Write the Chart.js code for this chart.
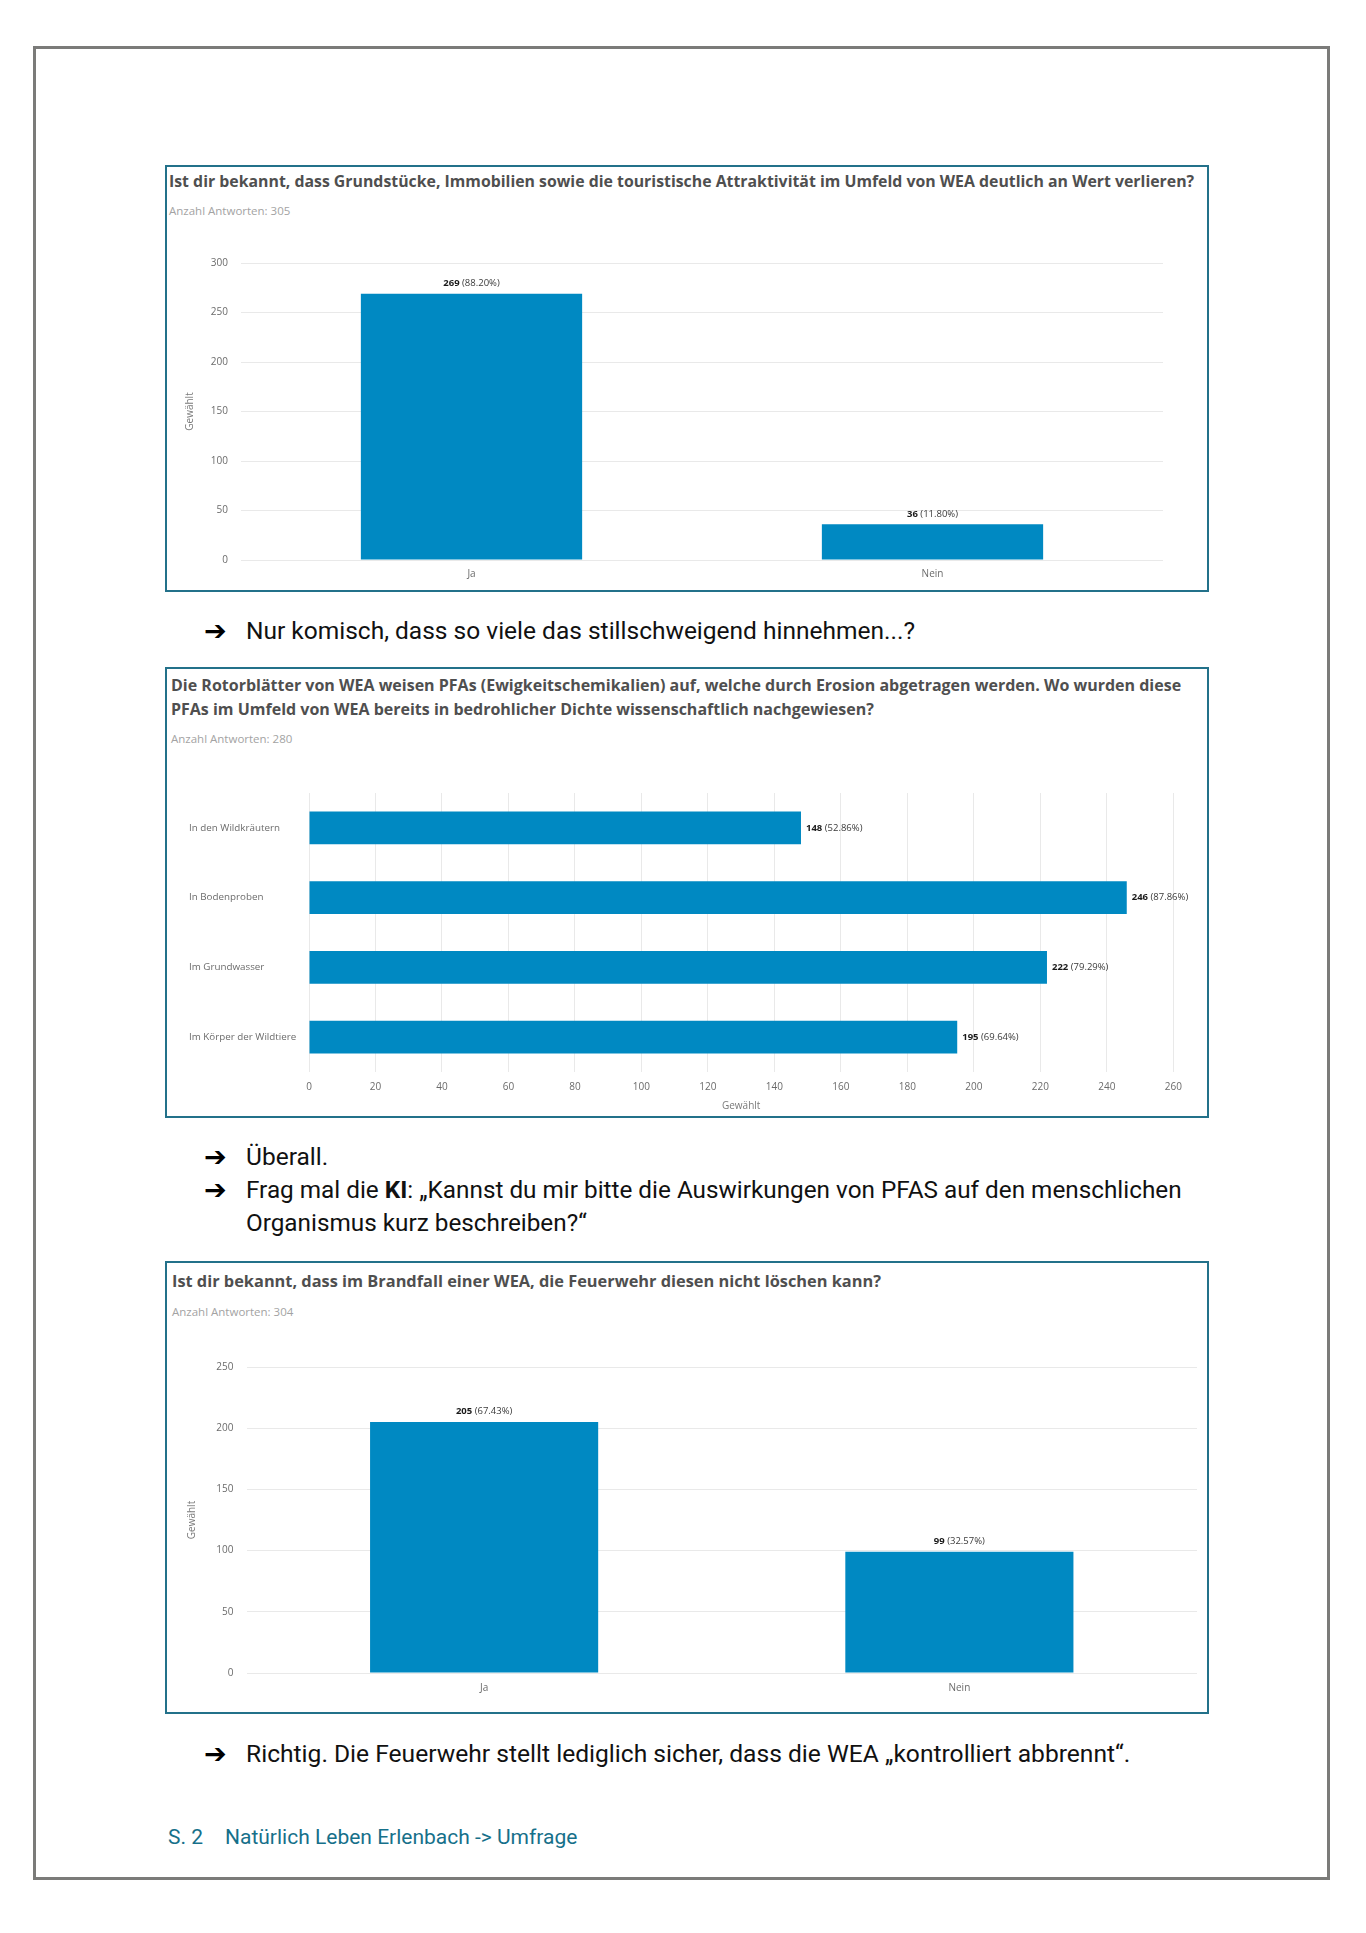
<!DOCTYPE html>
<html>
<head>
<meta charset="utf-8">
<script src="https://cdn.jsdelivr.net/npm/chart.js@4.4.1/dist/chart.umd.min.js"></script>
<style>
  html,body{margin:0;padding:0;background:#fff;}
  body{width:1366px;height:1933px;position:relative;overflow:hidden;font-family:'Open Sans',sans-serif;}
  .page{position:absolute;left:33px;top:46px;width:1291px;height:1828px;border:3px solid #7b7b79;}
  .box{position:absolute;left:165px;width:1040px;border:2px solid #23718a;}
  .title{position:absolute;font-family:'Open Sans',sans-serif;font-weight:700;font-size:16px;line-height:20px;color:#4f4f4f;white-space:nowrap;}
  .sub{position:absolute;font-family:'Open Sans',sans-serif;font-size:11.5px;line-height:16px;color:#a3a3a3;white-space:nowrap;}
  .cw{position:absolute;left:167px;width:1040px;}
  .txt{position:absolute;left:246px;font-family:Roboto,sans-serif;font-size:24.5px;line-height:32px;color:#111;white-space:nowrap;}
  .arr{position:absolute;left:204px;font-family:'DejaVu Sans',sans-serif;font-weight:bold;font-size:27px;line-height:32px;color:#000;}
  .foot{position:absolute;top:1822px;font-family:Roboto,sans-serif;font-size:21px;line-height:30px;color:#16708a;white-space:nowrap;}
</style>
</head>
<body>
<div class="page"></div>

<!-- Chart 1 -->
<div class="box" style="top:165px;height:423px;"></div>
<div class="title" id="t1" style="left:169px;top:171px;font-size:15.85px;"></div>
<div class="sub" id="s1" style="left:169px;top:203px;"></div>
<div class="cw" style="top:240px;height:350px;"><canvas id="c1"></canvas></div>

<div class="arr" style="top:615px;">➔</div>
<div class="txt" style="top:615px;">Nur komisch, dass so viele das stillschweigend hinnehmen...?</div>

<!-- Chart 2 -->
<div class="box" style="top:667px;height:447px;"></div>
<div class="title" id="t2" style="left:171px;top:674px;line-height:23.5px;"></div>
<div class="sub" id="s2" style="left:171px;top:731px;"></div>
<div class="cw" style="top:770px;height:346px;"><canvas id="c2"></canvas></div>

<div class="arr" style="top:1141px;">➔</div>
<div class="txt" style="top:1141px;">Überall.</div>
<div class="arr" style="top:1174px;">➔</div>
<div class="txt" style="top:1174px;font-size:24.3px;">Frag mal die <b style="font-weight:700">KI</b>: „Kannst du mir bitte die Auswirkungen von PFAS auf den menschlichen</div>
<div class="txt" style="top:1207px;font-size:24.3px;">Organismus kurz beschreiben?“</div>

<!-- Chart 3 -->
<div class="box" style="top:1261px;height:449px;"></div>
<div class="title" id="t3" style="left:172px;top:1271px;font-size:16.35px;"></div>
<div class="sub" id="s3" style="left:172px;top:1304px;"></div>
<div class="cw" style="top:1340px;height:372px;"><canvas id="c3"></canvas></div>

<div class="arr" style="top:1738px;">➔</div>
<div class="txt" style="top:1738px;font-size:24.6px;">Richtig. Die Feuerwehr stellt lediglich sicher, dass die WEA „kontrolliert abbrennt“.</div>

<div class="foot" style="left:168px;">S. 2</div>
<div class="foot" style="left:225px;">Natürlich Leben Erlenbach -&gt; Umfrage</div>

<script>
// ---------- DATA ----------
const q1Title = "Ist dir bekannt, dass Grundstücke, Immobilien sowie die touristische Attraktivität im Umfeld von WEA deutlich an Wert verlieren?";
const q1Total = 305;
const q1Labels = ["Ja", "Nein"];
const q1Values = [269, 36];
const q1Ticks = [0, 50, 100, 150, 200, 250, 300];

const q2TitleLines = [
  "Die Rotorblätter von WEA weisen PFAs (Ewigkeitschemikalien) auf, welche durch Erosion abgetragen werden. Wo wurden diese",
  "PFAs im Umfeld von WEA bereits in bedrohlicher Dichte wissenschaftlich nachgewiesen?"
];
const q2Total = 280;
const q2Labels = ["In den Wildkräutern", "In Bodenproben", "Im Grundwasser", "Im Körper der Wildtiere"];
const q2Values = [148, 246, 222, 195];
const q2Ticks = [0, 20, 40, 60, 80, 100, 120, 140, 160, 180, 200, 220, 240, 260];

const q3Title = "Ist dir bekannt, dass im Brandfall einer WEA, die Feuerwehr diesen nicht löschen kann?";
const q3Total = 304;
const q3Labels = ["Ja", "Nein"];
const q3Values = [205, 99];
const q3Ticks = [0, 50, 100, 150, 200, 250];

const axisTitle = "Gewählt";
const subPrefix = "Anzahl Antworten: ";

// ---------- TEXT ----------
document.getElementById('t1').textContent = q1Title;
document.getElementById('t2').innerHTML = q2TitleLines.join('<br>');
document.getElementById('t3').textContent = q3Title;
document.getElementById('s1').textContent = subPrefix + q1Total;
document.getElementById('s2').textContent = subPrefix + q2Total;
document.getElementById('s3').textContent = subPrefix + q3Total;

// ---------- CHARTS ----------
Chart.defaults.font.family = "'Open Sans', sans-serif";
Chart.defaults.animation = false;
const BAR = '#0089c2';
const GRID = '#e9e9e9';
const TICK = '#6b6b6b';
const LBL = 9.5;

const valueLabels = {
  id: 'valueLabels',
  afterDatasetsDraw(chart, args, opts) {
    const ctx = chart.ctx;
    const meta = chart.getDatasetMeta(0);
    const data = chart.data.datasets[0].data;
    ctx.save();
    ctx.textBaseline = 'middle';
    ctx.textAlign = 'left';
    meta.data.forEach((bar, i) => {
      const v = data[i];
      const num = String(v);
      const pct = ' (' + (v / opts.total * 100).toFixed(2) + '%)';
      ctx.font = 'bold ' + LBL + 'px "Open Sans"';
      const w1 = ctx.measureText(num).width;
      ctx.font = LBL + 'px "Open Sans"';
      const w2 = ctx.measureText(pct).width;
      let x, y;
      if (opts.horizontal) { x = bar.x + 5; y = bar.y; }
      else { x = bar.x - (w1 + w2) / 2; y = bar.y - 10.5; }
      ctx.font = 'bold ' + LBL + 'px "Open Sans"'; ctx.fillStyle = '#1a1a1a';
      ctx.fillText(num, x, y);
      ctx.font = LBL + 'px "Open Sans"'; ctx.fillStyle = '#3a3a3a';
      ctx.fillText(pct, x + w1, y);
    });
    ctx.restore();
  }
};

function vChart(id, labels, values, ticks, total, pad, yw, xh, xpad) {
  const max = ticks[ticks.length - 1];
  const step = ticks[1] - ticks[0];
  return new Chart(document.getElementById(id), {
    type: 'bar',
    data: { labels: labels, datasets: [{ data: values, backgroundColor: BAR, categoryPercentage: 1, barPercentage: 0.48 }] },
    options: {
      responsive: true, maintainAspectRatio: false,
      layout: { padding: pad },
      plugins: { legend: { display: false }, tooltip: { enabled: false }, valueLabels: { total: total, horizontal: false } },
      scales: {
        x: {
          grid: { display: false, drawTicks: false }, border: { display: false },
          ticks: { color: TICK, font: { size: 10 }, padding: xpad },
          afterFit: s => { s.height = xh; }
        },
        y: {
          min: 0, max: max,
          grid: { color: GRID, drawTicks: false }, border: { display: false },
          ticks: { stepSize: step, color: TICK, font: { size: 10 }, padding: 13 },
          title: { display: true, text: axisTitle, color: '#7a7a7a', font: { size: 10 }, padding: 0 },
          afterFit: s => { s.width = yw; }
        }
      }
    },
    plugins: [valueLabels]
  });
}

vChart('c1', q1Labels, q1Values, q1Ticks, q1Total, { left: 17, right: 44, top: 23, bottom: 0 }, 57, 30, 8);
vChart('c3', q3Labels, q3Values, q3Ticks, q3Total, { left: 19, right: 10, top: 27, bottom: 0 }, 60.5, 39, 9);

new Chart(document.getElementById('c2'), {
  type: 'bar',
  data: { labels: q2Labels, datasets: [{ data: q2Values, backgroundColor: BAR, categoryPercentage: 1, barPercentage: 0.47 }] },
  options: {
    indexAxis: 'y',
    responsive: true, maintainAspectRatio: false,
    layout: { padding: { left: 22, right: 33.7, top: 23, bottom: 0 } },
    plugins: { legend: { display: false }, tooltip: { enabled: false }, valueLabels: { total: q2Total, horizontal: true } },
    scales: {
      x: {
        min: q2Ticks[0], max: q2Ticks[q2Ticks.length - 1],
        grid: { color: GRID, drawTicks: false }, border: { display: false },
        ticks: { stepSize: q2Ticks[1] - q2Ticks[0], color: TICK, font: { size: 10 }, padding: 9 },
        title: { display: true, text: axisTitle, color: '#7a7a7a', font: { size: 10 }, padding: { top: 0, bottom: 4 } },
        afterFit: s => { s.height = 44; }
      },
      y: {
        grid: { display: false }, border: { display: false },
        ticks: { color: TICK, font: { size: 9.8 }, crossAlign: 'far', padding: 0 },
        afterFit: s => { s.width = 120; }
      }
    }
  },
  plugins: [valueLabels]
});
</script>
</body>
</html>
